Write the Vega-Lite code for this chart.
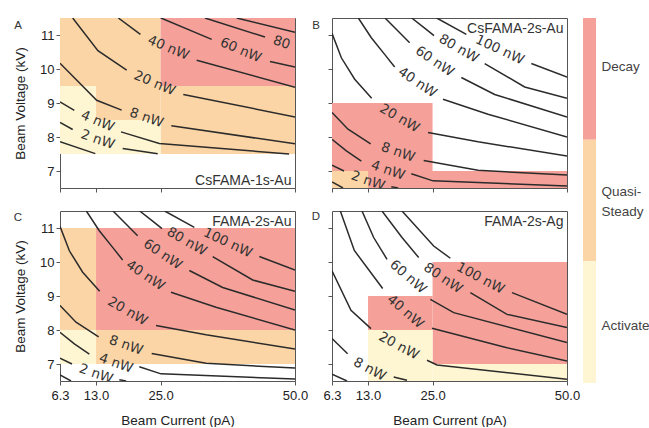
{
  "$schema": "https://vega.github.io/schema/vega-lite/v6.json",
  "padding": {"left": 13, "top": 17, "right": 0, "bottom": 0},
  "datasets": {
    "regions": [
      {"panel": "A", "state": "Quasi-Steady", "current": 6.3, "current_end": 25, "voltage": 9.5, "voltage_end": 11.5},
      {"panel": "A", "state": "Quasi-Steady", "current": 13, "current_end": 25, "voltage": 8.5, "voltage_end": 9.5},
      {"panel": "A", "state": "Quasi-Steady", "current": 25, "current_end": 50, "voltage": 7.5, "voltage_end": 9.5},
      {"panel": "A", "state": "Decay", "current": 25, "current_end": 50, "voltage": 9.5, "voltage_end": 11.5},
      {"panel": "A", "state": "Activate", "current": 6.3, "current_end": 13, "voltage": 7.5, "voltage_end": 9.5},
      {"panel": "A", "state": "Activate", "current": 13, "current_end": 25, "voltage": 7.5, "voltage_end": 8.5},
      {"panel": "B", "state": "Decay", "current": 6.3, "current_end": 25, "voltage": 7, "voltage_end": 9},
      {"panel": "B", "state": "Decay", "current": 13, "current_end": 50, "voltage": 6.5, "voltage_end": 7},
      {"panel": "B", "state": "Quasi-Steady", "current": 6.3, "current_end": 13, "voltage": 6.5, "voltage_end": 7},
      {"panel": "C", "state": "Decay", "current": 13, "current_end": 50, "voltage": 8, "voltage_end": 11},
      {"panel": "C", "state": "Quasi-Steady", "current": 6.3, "current_end": 13, "voltage": 8, "voltage_end": 11},
      {"panel": "C", "state": "Quasi-Steady", "current": 13, "current_end": 50, "voltage": 7, "voltage_end": 8},
      {"panel": "C", "state": "Activate", "current": 6.3, "current_end": 13, "voltage": 7, "voltage_end": 8},
      {"panel": "D", "state": "Decay", "current": 25, "current_end": 50, "voltage": 7, "voltage_end": 10},
      {"panel": "D", "state": "Decay", "current": 13, "current_end": 25, "voltage": 8, "voltage_end": 9},
      {"panel": "D", "state": "Activate", "current": 13, "current_end": 25, "voltage": 6.5, "voltage_end": 8},
      {"panel": "D", "state": "Activate", "current": 25, "current_end": 50, "voltage": 6.5, "voltage_end": 7}
    ],
    "panels": [
      {"panel": "A", "letter": "A", "name": "CsFAMA-1s-Au"},
      {"panel": "B", "letter": "B", "name": "CsFAMA-2s-Au"},
      {"panel": "C", "letter": "C", "name": "FAMA-2s-Au"},
      {"panel": "D", "letter": "D", "name": "FAMA-2s-Ag"}
    ],
    "legend": [
      {"state": "Decay", "lo": 2, "hi": 3},
      {"state": "Quasi-Steady", "lo": 1, "hi": 2},
      {"state": "Activate", "lo": 0, "hi": 1}
    ],
    "contours": [
      {"set": "1s", "seg": "c1", "current": 6.3, "voltage": 7.86},
      {"set": "1s", "seg": "c1", "current": 12.87, "voltage": 7.51},
      {"set": "1s", "seg": "2a", "current": 6.3, "voltage": 8.43},
      {"set": "1s", "seg": "2a", "current": 8.66, "voltage": 8.22},
      {"set": "1s", "seg": "2b", "current": 17.96, "voltage": 7.66},
      {"set": "1s", "seg": "2b", "current": 24.47, "voltage": 7.51},
      {"set": "1s", "seg": "4a", "current": 6.3, "voltage": 9.03},
      {"set": "1s", "seg": "4a", "current": 8.96, "voltage": 8.78},
      {"set": "1s", "seg": "4b", "current": 17.64, "voltage": 8.15},
      {"set": "1s", "seg": "4b", "current": 24.77, "voltage": 7.81},
      {"set": "1s", "seg": "4b", "current": 48.9, "voltage": 7.5},
      {"set": "1s", "seg": "8a", "current": 6.3, "voltage": 10.17},
      {"set": "1s", "seg": "8a", "current": 13.12, "voltage": 9.08},
      {"set": "1s", "seg": "8a", "current": 17.77, "voltage": 8.79},
      {"set": "1s", "seg": "8b", "current": 27.0, "voltage": 8.33},
      {"set": "1s", "seg": "8b", "current": 50, "voltage": 7.8},
      {"set": "1s", "seg": "20a", "current": 8.66, "voltage": 11.5},
      {"set": "1s", "seg": "20a", "current": 13.35, "voltage": 10.54},
      {"set": "1s", "seg": "20a", "current": 18.7, "voltage": 9.97},
      {"set": "1s", "seg": "20b", "current": 29.23, "voltage": 9.25},
      {"set": "1s", "seg": "20b", "current": 50, "voltage": 8.59},
      {"set": "1s", "seg": "40a", "current": 17.15, "voltage": 11.5},
      {"set": "1s", "seg": "40a", "current": 21.25, "voltage": 11.02},
      {"set": "1s", "seg": "40b", "current": 31.72, "voltage": 10.26},
      {"set": "1s", "seg": "40b", "current": 50, "voltage": 9.46},
      {"set": "1s", "seg": "60a", "current": 25.08, "voltage": 11.5},
      {"set": "1s", "seg": "60a", "current": 34.51, "voltage": 10.87},
      {"set": "1s", "seg": "60b", "current": 45.35, "voltage": 10.22},
      {"set": "1s", "seg": "60b", "current": 50, "voltage": 10.06},
      {"set": "1s", "seg": "80a", "current": 33.26, "voltage": 11.5},
      {"set": "1s", "seg": "80a", "current": 44.42, "voltage": 10.94},
      {"set": "1s", "seg": "100", "current": 39.16, "voltage": 11.5},
      {"set": "1s", "seg": "100", "current": 50, "voltage": 11.08},

      {"set": "2s", "seg": "1", "current": 6.3, "voltage": 6.68},
      {"set": "2s", "seg": "1", "current": 8.35, "voltage": 6.5},
      {"set": "2s", "seg": "2a", "current": 6.3, "voltage": 7.17},
      {"set": "2s", "seg": "2a", "current": 8.53, "voltage": 7.0},
      {"set": "2s", "seg": "2b", "current": 17.33, "voltage": 6.54},
      {"set": "2s", "seg": "2b", "current": 18.6, "voltage": 6.5},
      {"set": "2s", "seg": "4a", "current": 6.3, "voltage": 7.93},
      {"set": "2s", "seg": "4a", "current": 8.97, "voltage": 7.59},
      {"set": "2s", "seg": "4a", "current": 11.76, "voltage": 7.29},
      {"set": "2s", "seg": "4b", "current": 21.05, "voltage": 6.92},
      {"set": "2s", "seg": "4b", "current": 25.08, "voltage": 6.71},
      {"set": "2s", "seg": "4b", "current": 50, "voltage": 6.56},
      {"set": "2s", "seg": "8a", "current": 6.3, "voltage": 8.72},
      {"set": "2s", "seg": "8a", "current": 9.28, "voltage": 8.23},
      {"set": "2s", "seg": "8a", "current": 13.49, "voltage": 7.8},
      {"set": "2s", "seg": "8b", "current": 23.35, "voltage": 7.31},
      {"set": "2s", "seg": "8b", "current": 33.45, "voltage": 7.02},
      {"set": "2s", "seg": "8b", "current": 50, "voltage": 6.88},
      {"set": "2s", "seg": "20a", "current": 6.3, "voltage": 11.05},
      {"set": "2s", "seg": "20a", "current": 8.04, "voltage": 10.33},
      {"set": "2s", "seg": "20a", "current": 10.52, "voltage": 9.7},
      {"set": "2s", "seg": "20a", "current": 13.68, "voltage": 9.14},
      {"set": "2s", "seg": "20b", "current": 24.15, "voltage": 8.13},
      {"set": "2s", "seg": "20b", "current": 33.45, "voltage": 7.86},
      {"set": "2s", "seg": "20b", "current": 50, "voltage": 7.44},
      {"set": "2s", "seg": "40a", "current": 11.2, "voltage": 11.5},
      {"set": "2s", "seg": "40a", "current": 13.61, "voltage": 10.92},
      {"set": "2s", "seg": "40a", "current": 16.09, "voltage": 10.43},
      {"set": "2s", "seg": "40a", "current": 17.95, "voltage": 10.06},
      {"set": "2s", "seg": "40b", "current": 26.94, "voltage": 9.11},
      {"set": "2s", "seg": "40b", "current": 35.31, "voltage": 8.67},
      {"set": "2s", "seg": "40b", "current": 50, "voltage": 8.0},
      {"set": "2s", "seg": "60a", "current": 16.16, "voltage": 11.5},
      {"set": "2s", "seg": "60a", "current": 18.57, "voltage": 11.12},
      {"set": "2s", "seg": "60a", "current": 20.74, "voltage": 10.77},
      {"set": "2s", "seg": "60b", "current": 30.35, "voltage": 9.75},
      {"set": "2s", "seg": "60b", "current": 36.55, "voltage": 9.25},
      {"set": "2s", "seg": "60b", "current": 50, "voltage": 8.59},
      {"set": "2s", "seg": "80a", "current": 21.12, "voltage": 11.5},
      {"set": "2s", "seg": "80a", "current": 23.53, "voltage": 11.2},
      {"set": "2s", "seg": "80a", "current": 25.27, "voltage": 10.98},
      {"set": "2s", "seg": "80b", "current": 34.69, "voltage": 10.16},
      {"set": "2s", "seg": "80b", "current": 42.13, "voltage": 9.47},
      {"set": "2s", "seg": "80b", "current": 50, "voltage": 9.14},
      {"set": "2s", "seg": "100a", "current": 25.77, "voltage": 11.5},
      {"set": "2s", "seg": "100a", "current": 31.28, "voltage": 11.02},
      {"set": "2s", "seg": "100b", "current": 43.37, "voltage": 10.16},
      {"set": "2s", "seg": "100b", "current": 50, "voltage": 9.76},

      {"set": "ag", "seg": "1", "current": 6.3, "voltage": 6.7},
      {"set": "ag", "seg": "1", "current": 9.09, "voltage": 6.5},
      {"set": "ag", "seg": "8a", "current": 6.3, "voltage": 7.75},
      {"set": "ag", "seg": "8a", "current": 9.21, "voltage": 7.3},
      {"set": "ag", "seg": "8b", "current": 17.77, "voltage": 6.62},
      {"set": "ag", "seg": "8b", "current": 20.25, "voltage": 6.52},
      {"set": "ag", "seg": "20a", "current": 6.3, "voltage": 9.74},
      {"set": "ag", "seg": "20a", "current": 9.83, "voltage": 8.58},
      {"set": "ag", "seg": "20a", "current": 13.55, "voltage": 8.04},
      {"set": "ag", "seg": "20b", "current": 23.97, "voltage": 7.11},
      {"set": "ag", "seg": "20b", "current": 25.83, "voltage": 6.97},
      {"set": "ag", "seg": "20b", "current": 50, "voltage": 6.55},
      {"set": "ag", "seg": "40a", "current": 7.85, "voltage": 11.5},
      {"set": "ag", "seg": "40a", "current": 10.45, "voltage": 10.34},
      {"set": "ag", "seg": "40a", "current": 15.72, "voltage": 9.22},
      {"set": "ag", "seg": "40b", "current": 24.9, "voltage": 8.05},
      {"set": "ag", "seg": "40b", "current": 38.84, "voltage": 7.48},
      {"set": "ag", "seg": "40b", "current": 50, "voltage": 7.09},
      {"set": "ag", "seg": "60a", "current": 11.88, "voltage": 11.5},
      {"set": "ag", "seg": "60a", "current": 14.05, "voltage": 10.72},
      {"set": "ag", "seg": "60a", "current": 16.53, "voltage": 10.08},
      {"set": "ag", "seg": "60b", "current": 24.59, "voltage": 8.9},
      {"set": "ag", "seg": "60b", "current": 28.93, "voltage": 8.51},
      {"set": "ag", "seg": "60b", "current": 50, "voltage": 7.63},
      {"set": "ag", "seg": "80a", "current": 15.6, "voltage": 11.5},
      {"set": "ag", "seg": "80a", "current": 19.32, "voltage": 10.72},
      {"set": "ag", "seg": "80a", "current": 22.42, "voltage": 10.13},
      {"set": "ag", "seg": "80b", "current": 32.03, "voltage": 9.1},
      {"set": "ag", "seg": "80b", "current": 38.84, "voltage": 8.46},
      {"set": "ag", "seg": "80b", "current": 50, "voltage": 8.07},
      {"set": "ag", "seg": "100a", "current": 19.32, "voltage": 11.5},
      {"set": "ag", "seg": "100a", "current": 25.21, "voltage": 10.47},
      {"set": "ag", "seg": "100a", "current": 28.31, "voltage": 10.11},
      {"set": "ag", "seg": "100b", "current": 39.77, "voltage": 9.1},
      {"set": "ag", "seg": "100b", "current": 50, "voltage": 8.46}
    ],
    "labels": [
      {"set": "1s", "level": "2 nW", "current": 13.3, "voltage": 7.92},
      {"set": "1s", "level": "4 nW", "current": 13.3, "voltage": 8.46},
      {"set": "1s", "level": "8 nW", "current": 22.4, "voltage": 8.56},
      {"set": "1s", "level": "20 nW", "current": 23.9, "voltage": 9.58},
      {"set": "1s", "level": "40 nW", "current": 26.45, "voltage": 10.62},
      {"set": "1s", "level": "60 nW", "current": 39.9, "voltage": 10.55},
      {"set": "1s", "level": "80", "current": 47.5, "voltage": 10.77},
      {"set": "2s", "level": "100 nW", "current": 37.48, "voltage": 10.56},
      {"set": "2s", "level": "80 nW", "current": 29.86, "voltage": 10.6},
      {"set": "2s", "level": "60 nW", "current": 25.39, "voltage": 10.22},
      {"set": "2s", "level": "40 nW", "current": 22.17, "voltage": 9.6},
      {"set": "2s", "level": "20 nW", "current": 18.88, "voltage": 8.55},
      {"set": "2s", "level": "8 nW", "current": 18.57, "voltage": 7.55},
      {"set": "2s", "level": "4 nW", "current": 16.71, "voltage": 7.02},
      {"set": "2s", "level": "2 nW", "current": 12.99, "voltage": 6.71},
      {"set": "ag", "level": "100 nW", "current": 33.89, "voltage": 9.52},
      {"set": "ag", "level": "80 nW", "current": 26.94, "voltage": 9.52},
      {"set": "ag", "level": "60 nW", "current": 20.43, "voltage": 9.56},
      {"set": "ag", "level": "40 nW", "current": 19.94, "voltage": 8.54},
      {"set": "ag", "level": "20 nW", "current": 18.7, "voltage": 7.53},
      {"set": "ag", "level": "8 nW", "current": 13.3, "voltage": 6.84}
    ]
  },
  "hconcat": [
    {
      "columns": 2,
      "bounds": "flush",
      "spacing": {"row": 23, "column": 37},
      "concat": [
        {
          "width": 235, "height": 170,
          "layer": [
            {"data": {"name": "regions"}, "transform": [{"filter": {"field": "panel", "equal": "A"}}],
             "mark": {"type": "rect"},
             "encoding": {
               "x": {"field": "current", "type": "quantitative", "scale": {"domain": [6.3, 50], "nice": false, "zero": false}, "axis": {"values": [6.3, 13, 25, 50], "labels": false, "title": null}},
               "x2": {"field": "current_end"},
               "y": {"field": "voltage", "type": "quantitative", "scale": {"domain": [6.5, 11.5], "nice": false, "zero": false}, "axis": {"values": [7, 8, 9, 10, 11], "format": "d", "title": "Beam Voltage (kV)"}},
               "y2": {"field": "voltage_end"},
               "color": {"field": "state", "type": "nominal", "scale": {"domain": ["Decay", "Quasi-Steady", "Activate"], "range": ["#f5a199", "#fcd5a6", "#fef6d2"]}, "legend": null}
             }},
            {"data": {"name": "contours"}, "transform": [{"filter": {"field": "set", "equal": "1s"}}],
             "mark": {"type": "line", "clip": true, "color": "#2b2b2b", "strokeWidth": 1.5},
             "encoding": {"x": {"field": "current", "type": "quantitative"}, "y": {"field": "voltage", "type": "quantitative"}, "detail": {"field": "seg"}}},
            {"data": {"name": "labels"}, "transform": [{"filter": {"field": "set", "equal": "1s"}}, {"filter": {"field": "level", "oneOf": ["2 nW", "8 nW", "80"]}}],
             "mark": {"type": "text", "angle": 19, "clip": true, "font": "DejaVu Sans", "fontSize": 13.5, "color": "#333", "align": "center", "baseline": "middle"},
             "encoding": {"x": {"field": "current", "type": "quantitative"}, "y": {"field": "voltage", "type": "quantitative"}, "text": {"field": "level"}}},
            {"data": {"name": "labels"}, "transform": [{"filter": {"field": "set", "equal": "1s"}}, {"filter": {"field": "level", "oneOf": ["4 nW", "20 nW", "40 nW", "60 nW"]}}],
             "mark": {"type": "text", "angle": 23, "clip": true, "font": "DejaVu Sans", "fontSize": 13.5, "color": "#333", "align": "center", "baseline": "middle"},
             "encoding": {"x": {"field": "current", "type": "quantitative"}, "y": {"field": "voltage", "type": "quantitative"}, "text": {"field": "level"}}},
            {"data": {"name": "panels"}, "transform": [{"filter": {"field": "panel", "equal": "A"}}],
             "mark": {"type": "text", "align": "right", "baseline": "alphabetic", "dx": -3.5, "dy": -3.5, "font": "Liberation Sans", "fontSize": 14, "color": "#333"},
             "encoding": {"x": {"datum": 50, "type": "quantitative"}, "y": {"datum": 6.5, "type": "quantitative"}, "text": {"field": "name"}}},
            {"data": {"name": "panels"}, "transform": [{"filter": {"field": "panel", "equal": "A"}}],
             "mark": {"type": "text", "align": "center", "baseline": "alphabetic", "dx": -42, "dy": 11, "font": "Liberation Sans", "fontSize": 11.5, "color": "#333"},
             "encoding": {"x": {"datum": 6.3, "type": "quantitative"}, "y": {"datum": 11.5, "type": "quantitative"}, "text": {"field": "letter"}}}
          ]
        },
        {
          "width": 235, "height": 170,
          "layer": [
            {"data": {"name": "regions"}, "transform": [{"filter": {"field": "panel", "equal": "B"}}],
             "mark": {"type": "rect"},
             "encoding": {
               "x": {"field": "current", "type": "quantitative", "scale": {"domain": [6.3, 50], "nice": false, "zero": false}, "axis": {"values": [6.3, 13, 25, 50], "labels": false, "title": null}},
               "x2": {"field": "current_end"},
               "y": {"field": "voltage", "type": "quantitative", "scale": {"domain": [6.5, 11.5], "nice": false, "zero": false}, "axis": {"values": [7, 8, 9, 10, 11], "labels": false, "title": null}},
               "y2": {"field": "voltage_end"},
               "color": {"field": "state", "type": "nominal", "scale": {"domain": ["Decay", "Quasi-Steady", "Activate"], "range": ["#f5a199", "#fcd5a6", "#fef6d2"]}, "legend": null}
             }},
            {"data": {"name": "contours"}, "transform": [{"filter": {"field": "set", "equal": "2s"}}],
             "mark": {"type": "line", "clip": true, "color": "#2b2b2b", "strokeWidth": 1.5},
             "encoding": {"x": {"field": "current", "type": "quantitative"}, "y": {"field": "voltage", "type": "quantitative"}, "detail": {"field": "seg"}}},
            {"data": {"name": "labels"}, "transform": [{"filter": {"field": "set", "equal": "2s"}}, {"filter": {"field": "level", "oneOf": ["8 nW", "4 nW", "2 nW"]}}],
             "mark": {"type": "text", "angle": 19, "clip": true, "font": "DejaVu Sans", "fontSize": 13.5, "color": "#333", "align": "center", "baseline": "middle"},
             "encoding": {"x": {"field": "current", "type": "quantitative"}, "y": {"field": "voltage", "type": "quantitative"}, "text": {"field": "level"}}},
            {"data": {"name": "labels"}, "transform": [{"filter": {"field": "set", "equal": "2s"}}, {"filter": {"field": "level", "oneOf": ["100 nW"]}}],
             "mark": {"type": "text", "angle": 25, "clip": true, "font": "DejaVu Sans", "fontSize": 13.5, "color": "#333", "align": "center", "baseline": "middle"},
             "encoding": {"x": {"field": "current", "type": "quantitative"}, "y": {"field": "voltage", "type": "quantitative"}, "text": {"field": "level"}}},
            {"data": {"name": "labels"}, "transform": [{"filter": {"field": "set", "equal": "2s"}}, {"filter": {"field": "level", "oneOf": ["80 nW", "20 nW"]}}],
             "mark": {"type": "text", "angle": 30, "clip": true, "font": "DejaVu Sans", "fontSize": 13.5, "color": "#333", "align": "center", "baseline": "middle"},
             "encoding": {"x": {"field": "current", "type": "quantitative"}, "y": {"field": "voltage", "type": "quantitative"}, "text": {"field": "level"}}},
            {"data": {"name": "labels"}, "transform": [{"filter": {"field": "set", "equal": "2s"}}, {"filter": {"field": "level", "oneOf": ["60 nW", "40 nW"]}}],
             "mark": {"type": "text", "angle": 34, "clip": true, "font": "DejaVu Sans", "fontSize": 13.5, "color": "#333", "align": "center", "baseline": "middle"},
             "encoding": {"x": {"field": "current", "type": "quantitative"}, "y": {"field": "voltage", "type": "quantitative"}, "text": {"field": "level"}}},
            {"data": {"name": "panels"}, "transform": [{"filter": {"field": "panel", "equal": "B"}}],
             "mark": {"type": "text", "align": "right", "baseline": "alphabetic", "dx": -3.5, "dy": 15, "font": "Liberation Sans", "fontSize": 14, "color": "#333"},
             "encoding": {"x": {"datum": 50, "type": "quantitative"}, "y": {"datum": 11.5, "type": "quantitative"}, "text": {"field": "name"}}},
            {"data": {"name": "panels"}, "transform": [{"filter": {"field": "panel", "equal": "B"}}],
             "mark": {"type": "text", "align": "center", "baseline": "alphabetic", "dx": -16, "dy": 11, "font": "Liberation Sans", "fontSize": 11.5, "color": "#333"},
             "encoding": {"x": {"datum": 6.3, "type": "quantitative"}, "y": {"datum": 11.5, "type": "quantitative"}, "text": {"field": "letter"}}}
          ]
        },
        {
          "width": 235, "height": 170,
          "layer": [
            {"data": {"name": "regions"}, "transform": [{"filter": {"field": "panel", "equal": "C"}}],
             "mark": {"type": "rect"},
             "encoding": {
               "x": {"field": "current", "type": "quantitative", "scale": {"domain": [6.3, 50], "nice": false, "zero": false}, "axis": {"values": [6.3, 13, 25, 50], "format": ".1f", "title": "Beam Current (pA)"}},
               "x2": {"field": "current_end"},
               "y": {"field": "voltage", "type": "quantitative", "scale": {"domain": [6.5, 11.5], "nice": false, "zero": false}, "axis": {"values": [7, 8, 9, 10, 11], "format": "d", "title": "Beam Voltage (kV)"}},
               "y2": {"field": "voltage_end"},
               "color": {"field": "state", "type": "nominal", "scale": {"domain": ["Decay", "Quasi-Steady", "Activate"], "range": ["#f5a199", "#fcd5a6", "#fef6d2"]}, "legend": null}
             }},
            {"data": {"name": "contours"}, "transform": [{"filter": {"field": "set", "equal": "2s"}}],
             "mark": {"type": "line", "clip": true, "color": "#2b2b2b", "strokeWidth": 1.5},
             "encoding": {"x": {"field": "current", "type": "quantitative"}, "y": {"field": "voltage", "type": "quantitative"}, "detail": {"field": "seg"}}},
            {"data": {"name": "labels"}, "transform": [{"filter": {"field": "set", "equal": "2s"}}, {"filter": {"field": "level", "oneOf": ["8 nW", "4 nW", "2 nW"]}}],
             "mark": {"type": "text", "angle": 19, "clip": true, "font": "DejaVu Sans", "fontSize": 13.5, "color": "#333", "align": "center", "baseline": "middle"},
             "encoding": {"x": {"field": "current", "type": "quantitative"}, "y": {"field": "voltage", "type": "quantitative"}, "text": {"field": "level"}}},
            {"data": {"name": "labels"}, "transform": [{"filter": {"field": "set", "equal": "2s"}}, {"filter": {"field": "level", "oneOf": ["100 nW"]}}],
             "mark": {"type": "text", "angle": 25, "clip": true, "font": "DejaVu Sans", "fontSize": 13.5, "color": "#333", "align": "center", "baseline": "middle"},
             "encoding": {"x": {"field": "current", "type": "quantitative"}, "y": {"field": "voltage", "type": "quantitative"}, "text": {"field": "level"}}},
            {"data": {"name": "labels"}, "transform": [{"filter": {"field": "set", "equal": "2s"}}, {"filter": {"field": "level", "oneOf": ["80 nW", "20 nW"]}}],
             "mark": {"type": "text", "angle": 30, "clip": true, "font": "DejaVu Sans", "fontSize": 13.5, "color": "#333", "align": "center", "baseline": "middle"},
             "encoding": {"x": {"field": "current", "type": "quantitative"}, "y": {"field": "voltage", "type": "quantitative"}, "text": {"field": "level"}}},
            {"data": {"name": "labels"}, "transform": [{"filter": {"field": "set", "equal": "2s"}}, {"filter": {"field": "level", "oneOf": ["60 nW", "40 nW"]}}],
             "mark": {"type": "text", "angle": 34, "clip": true, "font": "DejaVu Sans", "fontSize": 13.5, "color": "#333", "align": "center", "baseline": "middle"},
             "encoding": {"x": {"field": "current", "type": "quantitative"}, "y": {"field": "voltage", "type": "quantitative"}, "text": {"field": "level"}}},
            {"data": {"name": "panels"}, "transform": [{"filter": {"field": "panel", "equal": "C"}}],
             "mark": {"type": "text", "align": "right", "baseline": "alphabetic", "dx": -3.5, "dy": 15, "font": "Liberation Sans", "fontSize": 14, "color": "#333"},
             "encoding": {"x": {"datum": 50, "type": "quantitative"}, "y": {"datum": 11.5, "type": "quantitative"}, "text": {"field": "name"}}},
            {"data": {"name": "panels"}, "transform": [{"filter": {"field": "panel", "equal": "C"}}],
             "mark": {"type": "text", "align": "center", "baseline": "alphabetic", "dx": -42, "dy": 10, "font": "Liberation Sans", "fontSize": 11.5, "color": "#333"},
             "encoding": {"x": {"datum": 6.3, "type": "quantitative"}, "y": {"datum": 11.5, "type": "quantitative"}, "text": {"field": "letter"}}}
          ]
        },
        {
          "width": 235, "height": 170,
          "layer": [
            {"data": {"name": "regions"}, "transform": [{"filter": {"field": "panel", "equal": "D"}}],
             "mark": {"type": "rect"},
             "encoding": {
               "x": {"field": "current", "type": "quantitative", "scale": {"domain": [6.3, 50], "nice": false, "zero": false}, "axis": {"values": [6.3, 13, 25, 50], "format": ".1f", "title": "Beam Current (pA)"}},
               "x2": {"field": "current_end"},
               "y": {"field": "voltage", "type": "quantitative", "scale": {"domain": [6.5, 11.5], "nice": false, "zero": false}, "axis": {"values": [7, 8, 9, 10, 11], "labels": false, "title": null}},
               "y2": {"field": "voltage_end"},
               "color": {"field": "state", "type": "nominal", "scale": {"domain": ["Decay", "Quasi-Steady", "Activate"], "range": ["#f5a199", "#fcd5a6", "#fef6d2"]}, "legend": null}
             }},
            {"data": {"name": "contours"}, "transform": [{"filter": {"field": "set", "equal": "ag"}}],
             "mark": {"type": "line", "clip": true, "color": "#2b2b2b", "strokeWidth": 1.5},
             "encoding": {"x": {"field": "current", "type": "quantitative"}, "y": {"field": "voltage", "type": "quantitative"}, "detail": {"field": "seg"}}},
            {"data": {"name": "labels"}, "transform": [{"filter": {"field": "set", "equal": "ag"}}, {"filter": {"field": "level", "oneOf": ["100 nW", "20 nW", "8 nW"]}}],
             "mark": {"type": "text", "angle": 28, "clip": true, "font": "DejaVu Sans", "fontSize": 13.5, "color": "#333", "align": "center", "baseline": "middle"},
             "encoding": {"x": {"field": "current", "type": "quantitative"}, "y": {"field": "voltage", "type": "quantitative"}, "text": {"field": "level"}}},
            {"data": {"name": "labels"}, "transform": [{"filter": {"field": "set", "equal": "ag"}}, {"filter": {"field": "level", "oneOf": ["80 nW"]}}],
             "mark": {"type": "text", "angle": 34, "clip": true, "font": "DejaVu Sans", "fontSize": 13.5, "color": "#333", "align": "center", "baseline": "middle"},
             "encoding": {"x": {"field": "current", "type": "quantitative"}, "y": {"field": "voltage", "type": "quantitative"}, "text": {"field": "level"}}},
            {"data": {"name": "labels"}, "transform": [{"filter": {"field": "set", "equal": "ag"}}, {"filter": {"field": "level", "oneOf": ["60 nW", "40 nW"]}}],
             "mark": {"type": "text", "angle": 41, "clip": true, "font": "DejaVu Sans", "fontSize": 13.5, "color": "#333", "align": "center", "baseline": "middle"},
             "encoding": {"x": {"field": "current", "type": "quantitative"}, "y": {"field": "voltage", "type": "quantitative"}, "text": {"field": "level"}}},
            {"data": {"name": "panels"}, "transform": [{"filter": {"field": "panel", "equal": "D"}}],
             "mark": {"type": "text", "align": "right", "baseline": "alphabetic", "dx": -3.5, "dy": 15, "font": "Liberation Sans", "fontSize": 14, "color": "#333"},
             "encoding": {"x": {"datum": 50, "type": "quantitative"}, "y": {"datum": 11.5, "type": "quantitative"}, "text": {"field": "name"}}},
            {"data": {"name": "panels"}, "transform": [{"filter": {"field": "panel", "equal": "D"}}],
             "mark": {"type": "text", "align": "center", "baseline": "alphabetic", "dx": -16, "dy": 9, "font": "Liberation Sans", "fontSize": 11.5, "color": "#333"},
             "encoding": {"x": {"datum": 6.3, "type": "quantitative"}, "y": {"datum": 11.5, "type": "quantitative"}, "text": {"field": "letter"}}}
          ]
        }
      ]
    },
    {
      "width": 13, "height": 365,
      "view": {"stroke": null},
      "data": {"name": "legend"},
      "mark": {"type": "rect"},
      "encoding": {
        "y": {"field": "lo", "type": "quantitative", "scale": {"domain": [0, 3], "nice": false, "zero": false},
              "axis": {"orient": "right", "values": [2.6, 1.57, 0.47], "labelExpr": "datum.value > 2 ? 'Decay' : datum.value > 1 ? ['Quasi-', 'Steady'] : 'Activate'", "ticks": false, "domain": false, "grid": false, "title": null, "labelPadding": 5, "labelFontSize": 13.5, "labelColor": "#444", "labelAlign": "left", "labelBaseline": "middle", "labelLineHeight": 20}},
        "y2": {"field": "hi"},
        "color": {"field": "state", "type": "nominal", "scale": {"domain": ["Decay", "Quasi-Steady", "Activate"], "range": ["#f5a199", "#fcd5a6", "#fef6d2"]}, "legend": null}
      }
    }
  ],
  "spacing": 2,
  "config": {
    "view": {"stroke": "#555", "strokeWidth": 1},
    "axis": {"domain": false, "grid": false, "tickColor": "#555", "tickSize": 4, "tickWidth": 1, "labelFont": "Liberation Sans", "labelFontSize": 13, "labelColor": "#222", "titleFont": "Liberation Sans", "titleFontSize": 13.5, "titleFontWeight": "normal", "titleColor": "#222", "labelPadding": 2, "labelFlush": false},
    "axisX": {"labelPadding": 4, "titlePadding": 11},
    "axisY": {"titlePadding": 12}
  }
}
